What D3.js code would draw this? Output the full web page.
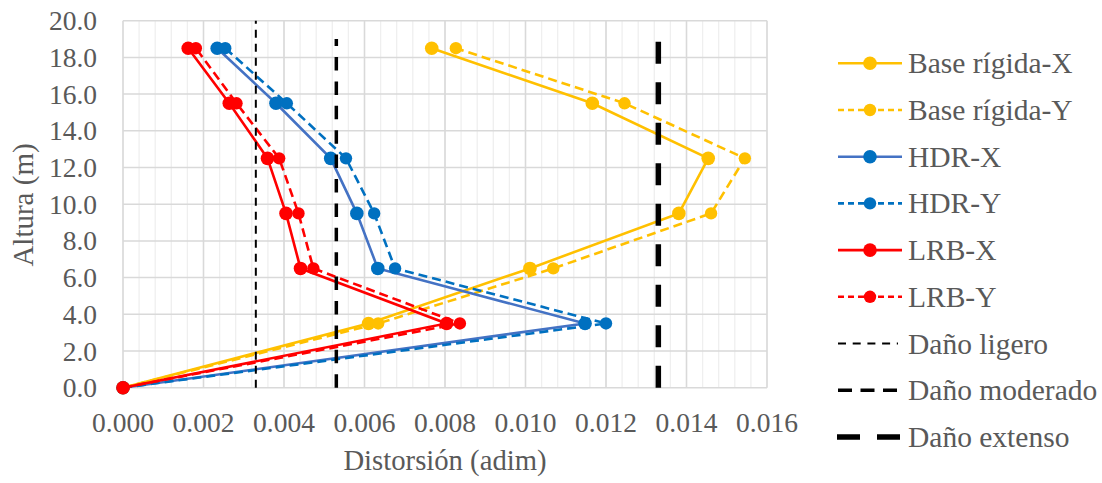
<!DOCTYPE html>
<html>
<head>
<meta charset="utf-8">
<script src="https://cdn.jsdelivr.net/npm/d3@7"></script>
<style>
  body { margin: 0; background: #fff; }
  svg text { font-family: "Liberation Serif", "Times New Roman", serif; fill: #595959; }
</style>
</head>
<body>
<svg id="chart" width="1102" height="483"></svg>
<script>
// alturas de piso (m)
const alturas = [0, 3.5, 6.5, 9.5, 12.5, 15.5, 18.5];

// distorsiones por serie
const baseX = [0, 0.00610, 0.01011, 0.01381, 0.01454, 0.01166, 0.00767];
const baseY = [0, 0.00634, 0.01069, 0.01461, 0.01545, 0.01246, 0.00827];
const hdrX  = [0, 0.01148, 0.00633, 0.00581, 0.00516, 0.00380, 0.00234];
const hdrY  = [0, 0.01200, 0.00676, 0.00624, 0.00554, 0.00407, 0.00254];
const lrbX  = [0, 0.00804, 0.00441, 0.00405, 0.00359, 0.00264, 0.00162];
const lrbY  = [0, 0.00837, 0.00473, 0.00436, 0.00388, 0.00282, 0.00181];

// limites de daño
const danoNombres = ['Daño ligero', 'Daño moderado', 'Daño extenso'];
const danoValores = [0.0033, 0.0053, 0.0133];
const danoAlturas = [[0, 20], [0, 19], [0, 19]];

const xTicks = [0, 0.002, 0.004, 0.006, 0.008, 0.010, 0.012, 0.014, 0.016];
const yTicks = [0, 2, 4, 6, 8, 10, 12, 14, 16, 18, 20];

const svg = d3.select('#chart');

const xScale = d3.scaleLinear().domain([0, 0.016]).range([123, 767]);
const yScale = d3.scaleLinear().domain([0, 20]).range([387.7, 20.7]);

// grid
const minor = d3.range(0, 0.01601, 0.0004);
svg.append('g')
    .selectAll('line')
    .data(minor)
    .join('line')
    .attr('x1', d => xScale(d))
    .attr('x2', d => xScale(d))
    .attr('y1', yScale(0))
    .attr('y2', yScale(20))
    .attr('stroke', '#efefef')
    .attr('stroke-width', 1.3);

svg.append('g')
    .selectAll('line')
    .data(xTicks)
    .join('line')
    .attr('x1', d => xScale(d))
    .attr('x2', d => xScale(d))
    .attr('y1', yScale(0))
    .attr('y2', yScale(20))
    .attr('stroke', '#d9d9d9')
    .attr('stroke-width', 1.5);

svg.append('g')
    .selectAll('line')
    .data(yTicks)
    .join('line')
    .attr('x1', xScale(0))
    .attr('x2', xScale(0.016))
    .attr('y1', d => yScale(d))
    .attr('y2', d => yScale(d))
    .attr('stroke', '#d9d9d9')
    .attr('stroke-width', 1.5);

// tick labels
svg.append('g')
    .selectAll('text')
    .data(xTicks)
    .join('text')
    .attr('x', d => xScale(d))
    .attr('y', 432)
    .attr('text-anchor', 'middle')
    .attr('font-size', 27.5)
    .text(d => d3.format('.3f')(d));

svg.append('g')
    .selectAll('text')
    .data(yTicks)
    .join('text')
    .attr('x', 97)
    .attr('y', d => yScale(d) + 9.5)
    .attr('text-anchor', 'end')
    .attr('font-size', 27.5)
    .text(d => d3.format('.1f')(d));

// axis titles
svg.append('text')
    .attr('x', 445)
    .attr('y', 470)
    .attr('text-anchor', 'middle')
    .attr('font-size', 28.7)
    .text('Distorsión (adim)');

svg.append('text')
    .attr('transform', 'translate(33,205) rotate(-90)')
    .attr('text-anchor', 'middle')
    .attr('font-size', 29)
    .text('Altura (m)');

// series
const series = [
    {name: 'Base rígida-X', values: baseX, line: '#FFC000', marker: '#FFC000', dash: null, r: 6.8},
    {name: 'Base rígida-Y', values: baseY, line: '#FFC000', marker: '#FFC000', dash: '9,5', r: 6.2},
    {name: 'HDR-X', values: hdrX, line: '#4472C4', marker: '#0070C0', dash: null, r: 6.8},
    {name: 'HDR-Y', values: hdrY, line: '#0070C0', marker: '#0070C0', dash: '9,5', r: 6.2},
    {name: 'LRB-X', values: lrbX, line: '#FF0000', marker: '#FF0000', dash: null, r: 6.8},
    {name: 'LRB-Y', values: lrbY, line: '#FF0000', marker: '#FF0000', dash: '9,5', r: 6.2}
];

const line = d3.line()
    .x(d => xScale(d[0]))
    .y(d => yScale(d[1]));

for (const s of series) {
    const pts = s.values.map((v, i) => [v, alturas[i]]);
    svg.append('path')
        .attr('d', line(pts))
        .attr('fill', 'none')
        .attr('stroke', s.line)
        .attr('stroke-width', 2.6)
        .attr('stroke-dasharray', s.dash);

    svg.append('g')
        .selectAll('circle')
        .data(pts)
        .join('circle')
        .attr('cx', d => xScale(d[0]))
        .attr('cy', d => yScale(d[1]))
        .attr('r', s.r)
        .attr('fill', s.marker);
}

// damage limits
const danoEstilo = [
    {w: 2, dash: '8,6'},
    {w: 3.5, dash: '13.5,10.9'},
    {w: 5.5, dash: '22,18.5'}
];

danoValores.forEach((v, i) => {
    svg.append('path')
        .attr('d', line(danoAlturas[i].map(h => [v, h])))
        .attr('fill', 'none')
        .attr('stroke', '#000')
        .attr('stroke-width', danoEstilo[i].w)
        .attr('stroke-dasharray', danoEstilo[i].dash);
});

// legend
const legend = svg.append('g');
const rowY = i => 63.3 + i * 46.7;

series.forEach((s, i) => {
    const y = rowY(i);
    legend.append('line')
        .attr('x1', 838).attr('x2', 902)
        .attr('y1', y).attr('y2', y)
        .attr('stroke', s.line)
        .attr('stroke-width', 2.6)
        .attr('stroke-dasharray', s.dash ? '6,4' : null);
    legend.append('circle')
        .attr('cx', 870).attr('cy', y)
        .attr('r', s.r)
        .attr('fill', s.marker);
    legend.append('text')
        .attr('x', 908).attr('y', y + 10)
        .attr('font-size', 29.5)
        .text(s.name);
});

const danoLeyenda = [
    {x1: 838, x2: 898, dash: '8,6.7'},
    {x1: 838, x2: 900, dash: '14,8.5'},
    {x1: 837, x2: 900, dash: '23,17'}
];

danoNombres.forEach((n, i) => {
    const y = rowY(6 + i);
    legend.append('line')
        .attr('x1', danoLeyenda[i].x1).attr('x2', danoLeyenda[i].x2)
        .attr('y1', y).attr('y2', y)
        .attr('stroke', '#000')
        .attr('stroke-width', danoEstilo[i].w)
        .attr('stroke-dasharray', danoLeyenda[i].dash);
    legend.append('text')
        .attr('x', 908).attr('y', y + 10)
        .attr('font-size', 29.5)
        .text(n);
});
</script>
</body>
</html>
